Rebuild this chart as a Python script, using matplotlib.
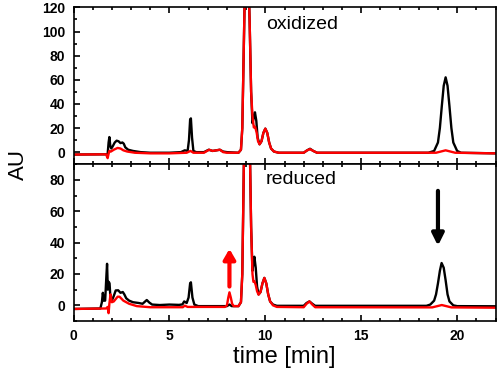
#! /usr/bin/env python3
"""HPLC traces of the oxidized and reduced sample (black / red)."""

import numpy as np
import matplotlib
matplotlib.use("Agg")
import matplotlib.pyplot as plt
from matplotlib.ticker import MultipleLocator

plt.rcParams['font.family'] = ['Liberation Sans', 'DejaVu Sans']

# main peak shared by all four traces (clipped at the top of both panels)
main_t = [8.6, 8.73, 8.8, 8.87, 8.95, 9.03, 9.11, 9.18, 9.26]
main_v = [-0.5, 2, 20, 80, 150, 180, 150, 110, 50]

# --- oxidized panel ---
ox_black_t = [0, 1.7, 1.78, 1.83, 1.87, 1.92, 1.97, 2.05, 2.15, 2.25, 2.35, 2.45, 2.55, 2.62,
              2.7, 2.85, 3.1, 3.5, 4.0, 5.0, 5.6, 5.8, 5.95, 6.02, 6.08, 6.12, 6.18, 6.25,
              6.4, 6.8, 7.05, 7.25, 7.45, 7.62, 7.8, 8.0] + main_t + \
             [9.33, 9.39, 9.46, 9.53, 9.6, 9.7, 9.8, 9.9, 10.0, 10.1, 10.2, 10.3, 10.45,
              10.7, 12.0, 12.18, 12.33, 12.5, 12.7, 18.5, 18.8, 19.0, 19.1, 19.2, 19.3,
              19.4, 19.5, 19.6, 19.7, 19.8, 20.0, 20.2, 22]
ox_black_v = [-2, -1.8, -1.5, 8, 12.5, 5, 3, 5, 8, 9.5, 9, 7.5, 8, 7,
              4, 2, 1, 0, -0.5, -0.5, 0, 1.5, 1, 10, 27, 28, 12, 1,
              0, 0, 2, 1, 1.5, 2, 0.5, 0] + main_v + \
             [24, 28, 33, 26, 12, 6.5, 9, 16, 19.5, 16, 8, 3, 0.5,
              -0.5, -0.5, 1.5, 2.8, 1, -0.5, -0.5, 1, 8, 20, 38, 55,
              62, 55, 38, 20, 8, 1, -0.5, -1]

ox_red_t = [0, 1.7, 1.78, 1.82, 1.87, 1.95, 2.1, 2.3, 2.45, 2.6, 2.8, 3.2, 4.0, 5.0, 5.9,
            6.1, 6.25, 6.8, 7.07, 7.25, 7.45, 7.64, 7.8, 8.0] + main_t + \
           [9.33, 9.4, 9.47, 9.55, 9.62, 9.7, 9.8, 9.9, 10.0, 10.1, 10.2, 10.3, 10.45,
            10.7, 12.0, 12.18, 12.33, 12.5, 12.7, 18.9, 19.4, 19.9, 22]
ox_red_v = [-2, -1.8, -5, -2, 1, 0.5, 2, 3.5, 3, 1.5, 0.5, -0.5, -1, -1, -0.5,
            1, -0.5, -0.5, 2, 1, 1.5, 2, 0, -0.5] + main_v + \
           [30, 20.5, 21, 16, 9, 6.5, 9, 16, 19.5, 16, 8, 3, 0.5,
            -0.5, -0.5, 1.5, 2.5, 1, -0.5, -0.5, 1.5, -0.5, -1]

# --- reduced panel ---
red_black_t = [0, 1.4, 1.48, 1.53, 1.58, 1.65, 1.72, 1.75, 1.79, 1.84, 1.88, 1.93, 2.0,
               2.1, 2.2, 2.33, 2.45, 2.57, 2.65, 2.75, 2.9, 3.1, 3.4, 3.6, 3.82, 3.95,
               4.1, 4.5, 5.0, 5.5, 5.68, 5.77, 5.9, 6.0, 6.08, 6.12, 6.2, 6.3, 6.5, 8.0,
               8.13, 8.25] + main_t + \
              [9.33, 9.38, 9.43, 9.5, 9.57, 9.65, 9.75, 9.85, 9.95, 10.05, 10.15, 10.25,
               10.4, 10.6, 12.0, 12.15, 12.3, 12.45, 12.6, 18.4, 18.6, 18.8, 18.9, 19.0,
               19.1, 19.19, 19.3, 19.4, 19.5, 19.6, 19.8, 20.0, 22]
red_black_v = [-2.3, -2, 2, 8, 3, 3, 20, 26.5, 10, 15, 14, 4, 3,
               6, 9.5, 9.6, 8, 8.5, 7, 4.5, 3, 2, 1.5, 1, 3.4, 1.8,
               0.5, 0.2, 0.5, 0.3, 0.6, 2.5, 1.5, 5, 14, 14.7, 5, 0.5, -0.5, -0.5,
               0.5, -0.5] + main_v + \
              [22, 27, 31, 24, 12, 7, 8.5, 14, 17.5, 14, 7, 2.5,
               0.5, -0.3, -0.3, 1.5, 2.5, 1, -0.3, -0.3, 0.5, 3, 7, 14,
               22, 27, 24, 16, 7, 2.5, 0, -0.5, -0.6]

red_red_t = [0, 1.7, 1.78, 1.83, 1.87, 1.93, 2.0, 2.1, 2.3, 2.4, 2.6, 2.9, 3.3, 4.0, 5.7,
             5.8, 5.95, 6.1, 7.9, 8.0, 8.07, 8.13, 8.2, 8.27, 8.35] + main_t + \
            [9.33, 9.38, 9.43, 9.5, 9.57, 9.65, 9.75, 9.85, 9.95, 10.05, 10.15, 10.25,
             10.4, 10.6, 12.0, 12.15, 12.3, 12.45, 12.6, 18.7, 19.2, 19.7, 22]
red_red_v = [-2.3, -2, -1, -5, 1, 7, 2, 2.5, 5.5, 5.5, 3, 1, -0.5, -1.2, -1.2,
             -0.2, -1, -1, -1, 0, 5, 8.3, 5, 1, -0.5] + main_v + \
            [20, 15, 15.4, 13, 9, 6.8, 8.5, 14, 17.5, 14, 7, 2.5,
             0, -1, -1.2, 1, 2.5, 0.5, -1.2, -1.3, 0.2, -1.3, -1.5]

x_ticks = [0, 5, 10, 15, 20]

fig, (ax1, ax2) = plt.subplots(2, 1, sharex=True, figsize=(5.0, 3.69), dpi=100)
fig.subplots_adjust(left=0.147, right=0.991, top=0.980, bottom=0.130, hspace=0)

ax1.plot(ox_black_t, ox_black_v, color='black', lw=1.7)
ax1.plot(ox_red_t, ox_red_v, color='red', lw=1.7)
ax2.plot(red_black_t, red_black_v, color='black', lw=1.7)
ax2.plot(red_red_t, red_red_v, color='red', lw=1.7)

ax1.set_ylim(-10, 120)
ax2.set_ylim(-10, 90)
ax2.set_xlim(0, 22)

ax1.yaxis.set_major_locator(MultipleLocator(20))
ax1.yaxis.set_minor_locator(MultipleLocator(10))
ax2.yaxis.set_major_locator(MultipleLocator(20))
ax2.yaxis.set_minor_locator(MultipleLocator(10))
ax2.set_xticks(x_ticks)
ax2.xaxis.set_minor_locator(MultipleLocator(1))

for ax in (ax1, ax2):
    for s in ax.spines.values():
        s.set_linewidth(1.2)
    ax.tick_params(which='both', direction='in', top=True, right=False, width=1.2)
    ax.tick_params(which='major', length=4.5, pad=6, labelsize=10)
    ax.tick_params(which='minor', length=2.5)
    for lab in ax.get_xticklabels() + ax.get_yticklabels():
        lab.set_fontweight('bold')

ax1.text(10.04, 106, 'oxidized', fontsize=14, va='center', ha='left')
ax2.text(10.04, 80, 'reduced', fontsize=14, va='center', ha='left')

# arrows
ax2.annotate('', xy=(19.0, 38), xytext=(19.0, 73),
             arrowprops=dict(arrowstyle='-|>,head_width=0.35,head_length=0.7',
                             lw=3, color='black', shrinkA=0, shrinkB=0))
ax2.annotate('', xy=(8.13, 36), xytext=(8.13, 12),
             arrowprops=dict(arrowstyle='-|>,head_width=0.35,head_length=0.6',
                             lw=3, color='red', shrinkA=0, shrinkB=0))

ax2.set_xlabel('time [min]', fontsize=17, labelpad=2)
fig.text(0.036, 0.553, 'AU', fontsize=16, rotation=90, ha='center', va='center')

fig.savefig('out.png', dpi=100)
